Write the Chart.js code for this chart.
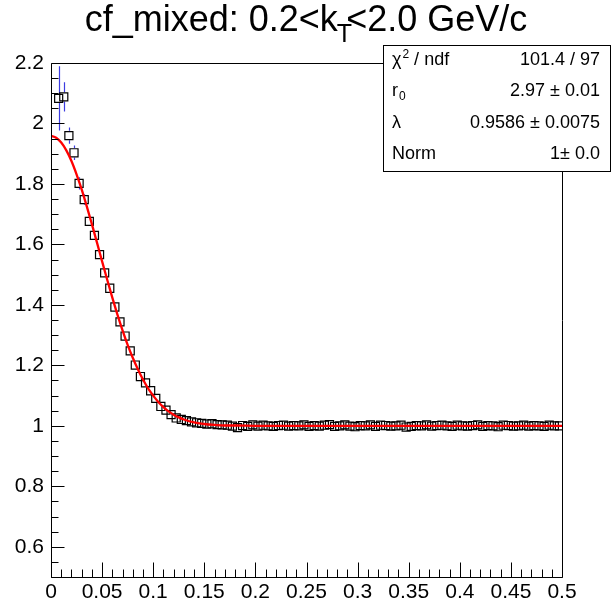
<!DOCTYPE html>
<html><head><meta charset="utf-8">
<script src="https://cdn.jsdelivr.net/npm/chart.js@4"></script>
<style>html,body{margin:0;padding:0;background:#fff}canvas{display:block}</style>
</head><body>
<canvas id="c" width="611" height="602"></canvas>
<script>
const titleMain = "cf_mixed: 0.2<k";
const titleSub = "T";
const titleEnd = "<2.0 GeV/c";

const binCenters = [0.0075,0.0125,0.0175,0.0225,0.0275,0.0325,0.0375,0.0425,0.0475,0.0525,
0.0575,0.0625,0.0675,0.0725,0.0775,0.0825,0.0875,0.0925,0.0975,0.1025,
0.1075,0.1125,0.1175,0.1225,0.1275,0.1325,0.1375,0.1425,0.1475,0.1525,
0.1575,0.1625,0.1675,0.1725,0.1775,0.1825,0.1875,0.1925,0.1975,0.2025,
0.2075,0.2125,0.2175,0.2225,0.2275,0.2325,0.2375,0.2425,0.2475,0.2525,
0.2575,0.2625,0.2675,0.2725,0.2775,0.2825,0.2875,0.2925,0.2975,0.3025,
0.3075,0.3125,0.3175,0.3225,0.3275,0.3325,0.3375,0.3425,0.3475,0.3525,
0.3575,0.3625,0.3675,0.3725,0.3775,0.3825,0.3875,0.3925,0.3975,0.4025,
0.4075,0.4125,0.4175,0.4225,0.4275,0.4325,0.4375,0.4425,0.4475,0.4525,
0.4575,0.4625,0.4675,0.4725,0.4775,0.4825,0.4875,0.4925,0.4975];

const cfValues = [2.083,2.088,1.960,1.903,1.802,1.748,1.676,1.630,1.566,1.506,
1.455,1.393,1.344,1.297,1.248,1.201,1.163,1.142,1.116,1.091,
1.064,1.052,1.037,1.026,1.021,1.017,1.013,1.010,1.008,1.006,
1.007,1.004,1.003,1.002,0.999,0.994,1.001,0.998,1.003,0.999,
1.002,1.000,0.998,1.001,1.002,0.999,1.001,1.000,1.003,0.998,
1.001,0.999,1.002,1.004,0.998,1.000,1.003,0.999,0.997,1.001,
1.000,1.003,0.998,1.002,1.001,0.999,1.000,1.002,0.996,0.998,
1.001,1.000,1.003,0.999,1.001,1.002,1.000,0.998,1.002,1.000,
0.999,1.001,1.003,0.998,1.001,1.000,0.997,1.002,1.001,0.999,
1.000,1.002,0.999,1.001,1.000,0.998,1.002,1.000,1.000];

const cfErrors = [0.106,0.048,0.027,0.024,0.020,0.018,0.016,0.014,0.013,0.012,
0.011,0.010,0.010,0.009,0.009,0.008,0.008,0.008,0.007,0.007,
0.007,0.007,0.006,0.006,0.006,0.006,0.006,0.006,0.006,0.005,
0.005,0.005,0.005,0.005,0.005,0.005,0.005,0.005,0.005,0.005,
0.005,0.005,0.005,0.005,0.005,0.005,0.005,0.005,0.005,0.005,
0.005,0.005,0.005,0.005,0.005,0.005,0.005,0.005,0.005,0.005,
0.005,0.005,0.005,0.005,0.005,0.005,0.005,0.005,0.005,0.005,
0.005,0.005,0.005,0.005,0.005,0.005,0.005,0.005,0.005,0.005,
0.005,0.005,0.005,0.005,0.005,0.005,0.005,0.005,0.005,0.005,
0.005,0.005,0.005,0.005,0.005,0.005,0.005,0.005,0.005];

const fitQ = [0,0.005,0.01,0.015,0.02,0.025,0.03,0.035,0.04,0.045,0.05,0.055,0.06,0.065,0.07,0.075,
0.08,0.085,0.09,0.095,0.1,0.105,0.11,0.115,0.12,0.125,0.13,0.14,0.15,0.16,0.17,0.18,0.2,0.3,0.4,0.5];
const fitValues = [1.959,1.953,1.937,1.911,1.876,1.832,1.782,1.726,1.667,1.606,1.544,1.483,1.424,1.368,1.316,1.268,
1.225,1.187,1.153,1.124,1.100,1.079,1.062,1.048,1.037,1.028,1.021,1.011,1.006,1.003,1.001,1.001,1.000,1.000,1.000,1.000];

const xTicks = [0,0.05,0.1,0.15,0.2,0.25,0.3,0.35,0.4,0.45,0.5];
const yTicks = [0.6,0.8,1,1.2,1.4,1.6,1.8,2,2.2];
const xRange = [0, 0.5];
const yRange = [0.5, 2.2];

const statsLabels = [
  [["\u03C7",""],["2","sup"],[" / ndf",""]],
  [["r",""],["0","sub"]],
  [["\u03BB",""]],
  [["Norm",""]]
];
const statsValues = ["101.4 / 97","2.97 \u00B1 0.01","0.9586 \u00B1 0.0075","1\u00B1 0.0"];

const FONT = '"Liberation Sans", Arial, Helvetica, sans-serif';
const MARKER_HALF = 4.7;

const rootPlugin = {
  id: 'rootStyle',
  beforeDatasetsDraw(chart) {
    const {ctx, scales: {x, y}, chartArea: a} = chart;
    ctx.save();
    ctx.beginPath(); ctx.rect(a.left, a.top, a.right - a.left, a.bottom - a.top); ctx.clip();
    ctx.strokeStyle = 'rgb(60,60,225)'; ctx.lineWidth = 1.2;
    binCenters.forEach((q, i) => {
      const px = Math.round(x.getPixelForValue(q)) + 0.5;
      const pc = y.getPixelForValue(cfValues[i]);
      const pt = y.getPixelForValue(cfValues[i] + cfErrors[i]);
      const pb = y.getPixelForValue(cfValues[i] - cfErrors[i]);
      ctx.beginPath();
      if (pt < pc - MARKER_HALF) { ctx.moveTo(px, pt); ctx.lineTo(px, pc - MARKER_HALF); }
      if (pb > pc + MARKER_HALF) { ctx.moveTo(px, pc + MARKER_HALF); ctx.lineTo(px, pb); }
      ctx.stroke();
    });
    ctx.restore();
  },
  afterDatasetsDraw(chart) {
    const {ctx, scales: {x, y}, chartArea: a} = chart;
    ctx.save();
    ctx.strokeStyle = '#000'; ctx.lineWidth = 1;
    const L = Math.round(a.left) + 0.5, R = Math.round(a.right) + 0.5;
    const T = Math.round(a.top) + 0.5, B = Math.round(a.bottom) + 0.5;
    ctx.beginPath(); ctx.rect(L, T, R - L, B - T); ctx.stroke();
    ctx.beginPath();
    for (let k = 0; k <= 50; k++) {
      const v = k * 0.01;
      const px = Math.round(x.getPixelForValue(v)) + 0.5;
      const len = (k % 5 === 0) ? 15 : 8;
      ctx.moveTo(px, B); ctx.lineTo(px, B - len);
    }
    for (let k = 10; k <= 44; k++) {
      const v = k * 0.05;
      const py = Math.round(y.getPixelForValue(v)) + 0.5;
      const len = (k % 4 === 0) ? 13 : 7;
      ctx.moveTo(L, py); ctx.lineTo(L + len, py);
    }
    ctx.stroke();
    ctx.restore();
  },
  afterDraw(chart) {
    const {ctx} = chart;
    ctx.save();
    ctx.fillStyle = '#000';
    ctx.textBaseline = 'alphabetic';
    ctx.textAlign = 'left';
    const big = '36px ' + FONT, small = '25px ' + FONT;
    ctx.font = big;
    const w1 = ctx.measureText(titleMain).width;
    const w3 = ctx.measureText(titleEnd).width;
    ctx.font = small;
    const w2 = ctx.measureText(titleSub).width;
    const gap = w2 * 0.55;
    const total = w1 + gap + w3;
    const x0 = 306 - total / 2;
    const base = 31;
    ctx.font = big;
    ctx.fillText(titleMain, x0, base);
    ctx.fillText(titleEnd, x0 + w1 + gap, base);
    ctx.font = small;
    ctx.fillText(titleSub, x0 + w1 - 1, base + 11);

    const bx = 383.5, by = 45.5, bw = 227, bh = 126;
    ctx.fillStyle = '#fff';
    ctx.fillRect(bx, by, bw, bh);
    ctx.strokeStyle = '#000'; ctx.lineWidth = 1;
    ctx.strokeRect(bx, by, bw, bh);
    const rowH = bh / 4;
    const fs = 18;
    statsLabels.forEach((parts, i) => {
      const cy = by + rowH * (i + 0.5);
      const baseY = cy + fs * 0.36 - 3;
      let cx = 392;
      ctx.fillStyle = '#000';
      ctx.textAlign = 'left';
      parts.forEach(([t, mode]) => {
        if (mode === 'sup') {
          ctx.font = Math.round(fs * 0.68) + 'px ' + FONT;
          ctx.fillText(t, cx + 1, baseY - fs * 0.4);
          cx += ctx.measureText(t).width + 1;
        } else if (mode === 'sub') {
          ctx.font = Math.round(fs * 0.68) + 'px ' + FONT;
          ctx.fillText(t, cx + 1, baseY + fs * 0.2);
          cx += ctx.measureText(t).width + 1;
        } else {
          ctx.font = fs + 'px ' + FONT;
          ctx.fillText(t, cx, baseY);
          cx += ctx.measureText(t).width;
        }
      });
      ctx.font = fs + 'px ' + FONT;
      ctx.textAlign = 'right';
      ctx.fillText(statsValues[i], 600, baseY);
    });
    ctx.restore();
  }
};

const dataPoints = binCenters.map((q, i) => ({x: q, y: cfValues[i]}));
const fitPoints = fitQ.map((q, i) => ({x: q, y: fitValues[i]}));

new Chart(document.getElementById('c'), {
  type: 'scatter',
  data: {
    datasets: [
      {
        label: 'fit', data: fitPoints, showLine: true, order: 0,
        borderColor: '#ff0000', borderWidth: 2.3, pointRadius: 0, fill: false,
        cubicInterpolationMode: 'monotone', clip: 0
      },
      {
        label: 'cf_mixed', data: dataPoints, order: 1,
        pointStyle: 'rect', pointRadius: 5.7, pointBorderWidth: 1.2,
        pointBorderColor: '#000', pointBackgroundColor: 'rgba(0,0,0,0)',
        borderColor: '#000', backgroundColor: 'rgba(0,0,0,0)', clip: 0
      }
    ]
  },
  options: {
    responsive: false, animation: false, devicePixelRatio: 1,
    layout: {padding: {left: 0, right: 49, top: 63, bottom: 0}},
    plugins: {legend: {display: false}, tooltip: {enabled: false}, title: {display: false}},
    scales: {
      x: {
        type: 'linear', min: xRange[0], max: xRange[1],
        grid: {display: false, drawTicks: false}, border: {display: false},
        afterBuildTicks: s => { s.ticks = xTicks.map(v => ({value: v})); },
        afterFit: s => { s.height = 25; },
        ticks: {padding: 3, color: '#000', font: {family: FONT, size: 21}, maxRotation: 0, autoSkip: false,
          callback: v => String(v)}
      },
      y: {
        type: 'linear', min: yRange[0], max: yRange[1],
        grid: {display: false, drawTicks: false}, border: {display: false},
        afterBuildTicks: s => { s.ticks = yTicks.map(v => ({value: v})); },
        afterFit: s => { s.width = 51; },
        ticks: {padding: 7, color: '#000', font: {family: FONT, size: 21}, autoSkip: false,
          callback: v => String(v)}
      }
    }
  },
  plugins: [rootPlugin]
});
</script>
</body></html>
